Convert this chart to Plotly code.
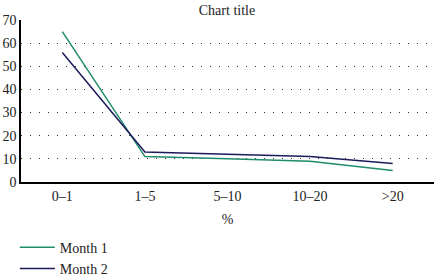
import plotly.graph_objects as go

categories = ["0\u20131", "1\u20135", "5\u201310", "10\u201320", ">20"]
month1 = [65, 11, 10, 9, 5]
month2 = [56, 13, 12, 11, 8]

FONT = "Liberation Serif"
H = 300

fig = go.Figure()
fig.add_trace(go.Scatter(x=categories, y=month1, mode="lines", name="Month 1",
                         line=dict(color="#1f8c6b", width=1.5)))
fig.add_trace(go.Scatter(x=categories, y=month2, mode="lines", name="Month 2",
                         line=dict(color="#1b1b5c", width=1.5)))

fig.update_layout(
    width=434, height=H,
    margin=dict(l=21, r=0, t=20, b=H - 182),
    paper_bgcolor="white", plot_bgcolor="white",
    font=dict(family=FONT, size=14, color="#222"),
    title=dict(text="Chart title", x=0.523, xanchor="center", y=1 - 10 / H,
               yref="container", yanchor="middle",
               font=dict(family=FONT, size=14, color="#222")),
    showlegend=True,
    legend=dict(x=-0.015, xanchor="left", y=-0.307, yanchor="top",
                font=dict(family=FONT, size=14), bgcolor="rgba(0,0,0,0)",
                tracegroupgap=0, itemwidth=35),
    xaxis=dict(type="category", range=[-0.5, 4.5], showgrid=False, zeroline=False,
               showline=True, linecolor="black", linewidth=1.5, ticks="",
               title=dict(text="%", standoff=12, font=dict(family=FONT, size=14)),
               automargin=False, tickfont=dict(family=FONT, size=14)),
    yaxis=dict(range=[0, 70], dtick=10, showgrid=True, gridcolor="#333",
               griddash="1px,8px", gridwidth=1, zeroline=False,
               showline=True, linecolor="black", linewidth=1.5, ticks="",
               automargin=False, tickfont=dict(family=FONT, size=14)),
)

fig.write_html("out.html", config={"displayModeBar": False},
               post_script="document.body.style.margin='0';document.body.style.overflow='hidden';")
